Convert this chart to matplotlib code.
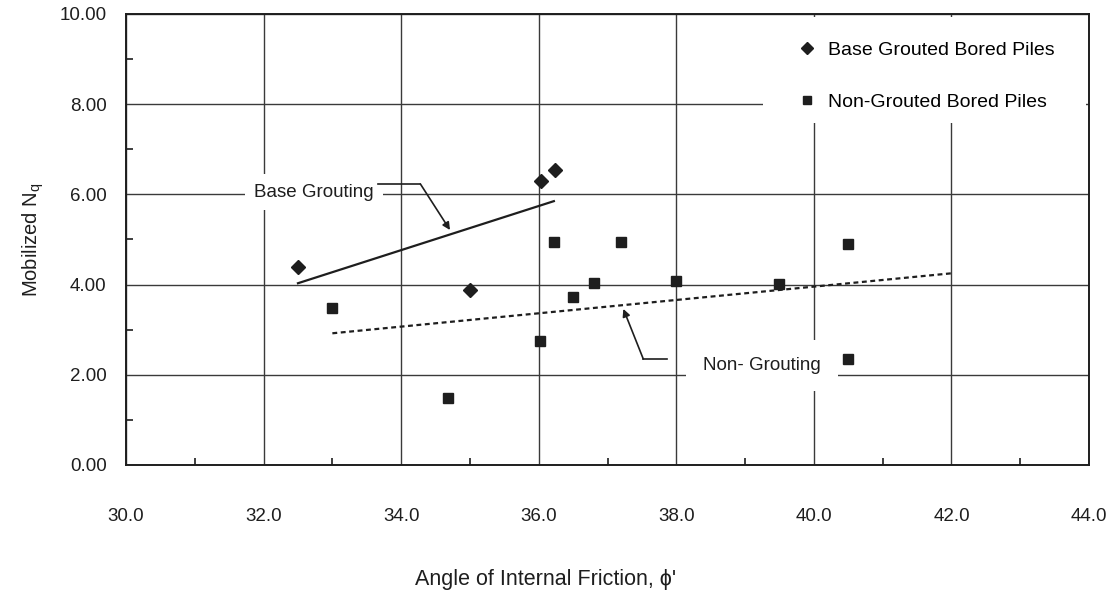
import matplotlib.pyplot as plt
from matplotlib.patches import Rectangle
from matplotlib.ticker import MultipleLocator, FormatStrFormatter

plt.rcParams['font.family'] = ['Liberation Sans', 'DejaVu Sans']

# measured points
grouted_phi = [32.5, 35.0, 36.03, 36.23]
grouted_nq = [4.40, 3.87, 6.29, 6.54]

nongrouted_phi = [33.0, 34.68, 36.02, 36.22, 36.5, 36.8, 37.2, 38.0, 39.5, 40.5, 40.5]
nongrouted_nq = [3.48, 1.49, 2.75, 4.94, 3.72, 4.04, 4.95, 4.08, 4.01, 4.91, 2.35]

# trend lines
grouted_trend_phi = [32.5, 36.22]
grouted_trend_nq = [4.03, 5.85]
nongrouted_trend_phi = [33.0, 42.0]
nongrouted_trend_nq = [2.92, 4.25]

ink = '#1e1e1e'
grid_col = '#3a3a3a'
fs = 13.5

fig = plt.figure(figsize=(11.14, 5.93), dpi=100)
ax = fig.add_axes([0.1131, 0.2159, 0.8645, 0.7605])

ax.set_xlim(30, 44)
ax.set_ylim(0, 10)
ax.xaxis.set_major_locator(MultipleLocator(2))
ax.xaxis.set_minor_locator(MultipleLocator(1))
ax.yaxis.set_major_locator(MultipleLocator(2))
ax.yaxis.set_minor_locator(MultipleLocator(1))
ax.xaxis.set_major_formatter(FormatStrFormatter('%.1f'))
ax.yaxis.set_major_formatter(FormatStrFormatter('%.2f'))
ax.tick_params(which='major', length=0, labelsize=fs, colors=ink)
ax.tick_params(axis='x', which='major', pad=31)
ax.tick_params(axis='y', which='major', pad=14)
ax.tick_params(which='minor', direction='in', length=5, width=1.2, color=ink)
ax.tick_params(which='minor', top=False, right=False)
ax.grid(True, which='major', color=grid_col, linewidth=1.0)
for s in ax.spines.values():
    s.set_color(ink)
    s.set_linewidth(1.4)
    s.set_zorder(10)

# blank panel behind the key, kept inside the frame
ax.add_patch(Rectangle((0.661, 0.758), 0.336, 0.236, transform=ax.transAxes,
                       fc='white', ec='none', zorder=2))

ax.plot(grouted_trend_phi, grouted_trend_nq, color=ink, lw=1.6, zorder=3)
ax.plot(nongrouted_trend_phi, nongrouted_trend_nq, color=ink, lw=1.6,
        dashes=(2.2, 1.6), zorder=3)

ax.plot(grouted_phi, grouted_nq, 'D', color=ink, ms=7.5, ls='none', zorder=4,
        label='Base Grouted Bored Piles')
ax.plot(nongrouted_phi, nongrouted_nq, 's', color=ink, ms=7, ls='none', zorder=4,
        label='Non-Grouted Bored Piles')

leg = ax.legend(loc='upper right', bbox_to_anchor=(0.995, 1.005), fontsize=fs + 0.5,
                frameon=False, markerscale=0.8, handlelength=0.6,
                handletextpad=0.8, labelspacing=1.8, borderpad=1.0)
leg.set_zorder(5)

# callouts
ax.text(33.6, 6.05, 'Base Grouting', ha='right', va='center', fontsize=fs,
        color=ink, zorder=5,
        bbox=dict(boxstyle='square,pad=0.5', fc='white', ec='none'))
ax.plot([33.67, 34.28], [6.23, 6.23], color=ink, lw=1.2, zorder=6)
ax.annotate('', xy=(34.71, 5.21), xytext=(34.28, 6.23), zorder=6,
            arrowprops=dict(arrowstyle='-|>', color=ink, lw=1.2,
                            mutation_scale=11, shrinkA=0, shrinkB=0))

ax.text(38.39, 2.2, 'Non- Grouting', ha='left', va='center', fontsize=fs,
        color=ink, zorder=5,
        bbox=dict(boxstyle='square,pad=0.9', fc='white', ec='none'))
ax.plot([37.52, 37.87], [2.35, 2.35], color=ink, lw=1.2, zorder=6)
ax.annotate('', xy=(37.23, 3.46), xytext=(37.52, 2.35), zorder=6,
            arrowprops=dict(arrowstyle='-|>', color=ink, lw=1.2,
                            mutation_scale=11, shrinkA=0, shrinkB=0))

ax.set_ylabel(r'Mobilized N$_\mathregular{q}$', fontsize=14.5, color=ink,
              labelpad=10)
fig.text(0.49, 0.022, "Angle of Internal Friction, \u03d5'", ha='center',
         va='center', fontsize=15.5, color=ink)

fig.savefig('out.png', dpi=100, facecolor='white')
